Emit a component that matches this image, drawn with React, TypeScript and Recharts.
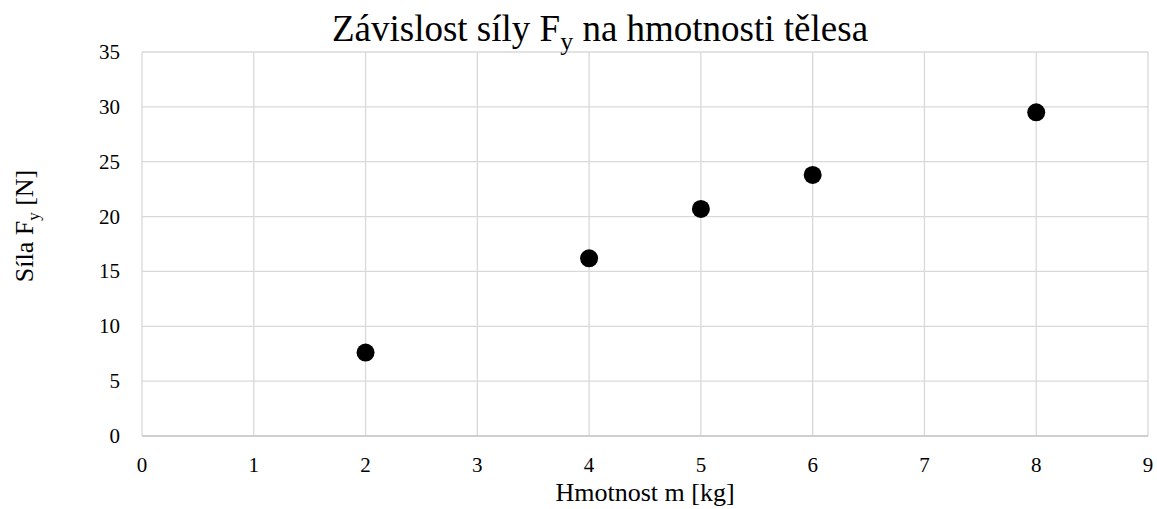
import {
  ScatterChart,
  Scatter,
  XAxis,
  YAxis,
  CartesianGrid,
  Label,
} from "recharts";

const masses = [2, 4, 5, 6, 8];
const forces = [7.6, 16.2, 20.7, 23.8, 29.5];
const xTicks = [0, 1, 2, 3, 4, 5, 6, 7, 8, 9];
const yTicks = [0, 5, 10, 15, 20, 25, 30, 35];

const points = masses.map((m, i) => ({ m, f: forces[i] }));

const FONT = "'Liberation Serif', 'Times New Roman', serif";
const serif = { fontFamily: FONT };

const Dot = (props: any) => (
  <circle cx={props.cx} cy={props.cy} r={9} fill="#000" />
);

const XTick = (props: any) => (
  <text x={props.x} y={props.y + 16} textAnchor="middle" fontSize={21} fill="#000" style={serif}>
    {props.payload.value}
  </text>
);

const YTick = (props: any) => (
  <text x={props.x} y={props.y + 7} textAnchor="end" fontSize={21} fill="#000" style={serif}>
    {props.payload.value}
  </text>
);

export default function App() {
  return (
    <div style={{ position: "absolute", left: 0, top: 0, width: 1157, height: 509, background: "#fff" }}>
      <ScatterChart
        width={1157}
        height={509}
        margin={{ top: 52, right: 9, bottom: 33, left: 60 }}
      >
        <CartesianGrid stroke="#d9d9d9" strokeWidth={1.3} />
        <XAxis
          type="number"
          dataKey="m"
          domain={[0, 9]}
          ticks={xTicks}
          interval={0}
          height={40}
          tickLine={false}
          tickSize={0}
          tickMargin={20}
          axisLine={{ stroke: "#c8c8c8", strokeWidth: 1.5 }}
          tick={<XTick />}
        >
          <Label
            content={() => (
              <text x={645} y={501} textAnchor="middle" fontSize={26} fill="#000" style={serif}>
                Hmotnost m [kg]
              </text>
            )}
          />
        </XAxis>
        <YAxis
          type="number"
          dataKey="f"
          domain={[0, 35]}
          ticks={yTicks}
          interval={0}
          width={82}
          tickLine={false}
          tickSize={0}
          tickMargin={22}
          axisLine={false}
          tick={<YTick />}
        >
          <Label
            content={() => (
              <text
                x={33}
                y={226}
                textAnchor="middle"
                fontSize={26}
                fill="#000"
                style={serif}
                transform="rotate(-90 33 226)"
              >
                Síla F
                <tspan fontSize={17} dy={6}>y</tspan>
                <tspan dy={-6}> [N]</tspan>
              </text>
            )}
          />
        </YAxis>
        <Scatter data={points} shape={Dot} isAnimationActive={false} />
      </ScatterChart>
      <svg
        width={1157}
        height={60}
        style={{ position: "absolute", left: 0, top: 0, pointerEvents: "none" }}
      >
        <text x={600} y={41} textAnchor="middle" fontSize={37} fill="#000" style={serif}>
          Závislost síly F
          <tspan fontSize={26} dy={9}>y</tspan>
          <tspan dy={-9}> na hmotnosti tělesa</tspan>
        </text>
      </svg>
    </div>
  );
}
